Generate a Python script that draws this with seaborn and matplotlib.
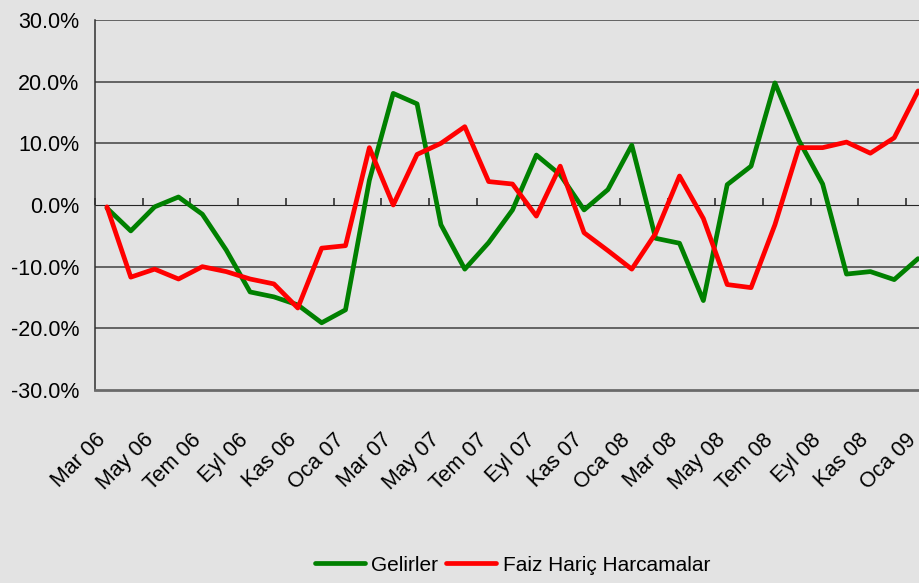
import matplotlib
matplotlib.use("Agg")
import matplotlib.pyplot as plt
import pandas as pd
import seaborn as sns
from matplotlib.ticker import FuncFormatter
from matplotlib.transforms import ScaledTranslation

# Data (monthly % change)
months = ["Mar 06", "Nis 06", "May 06", "Haz 06", "Tem 06", "Ağu 06", "Eyl 06", "Eki 06",
          "Kas 06", "Ara 06", "Oca 07", "Şub 07", "Mar 07", "Nis 07", "May 07", "Haz 07",
          "Tem 07", "Ağu 07", "Eyl 07", "Eki 07", "Kas 07", "Ara 07", "Oca 08", "Şub 08",
          "Mar 08", "Nis 08", "May 08", "Haz 08", "Tem 08", "Ağu 08", "Eyl 08", "Eki 08",
          "Kas 08", "Ara 08", "Oca 09"]
gelirler = [-0.5, -4.2, -0.3, 1.3, -1.5, -7.3, -14.1, -14.9, -16.2, -19.1, -17.0, 4.0,
            18.1, 16.4, -3.2, -10.4, -6.1, -0.8, 8.1, 4.9, -0.8, 2.5, 9.7, -5.4,
            -6.2, -15.5, 3.3, 6.3, 19.8, 10.5, 3.4, -11.2, -10.8, -12.1, -8.7]
harcamalar = [-0.3, -11.7, -10.4, -12.0, -10.0, -10.8, -12.0, -12.8, -16.7, -7.0, -6.6, 9.3,
              0.0, 8.2, 10.0, 12.7, 3.8, 3.4, -1.8, 6.3, -4.5, -7.4, -10.4, -4.6,
              4.7, -2.2, -12.9, -13.4, -3.2, 9.3, 9.3, 10.2, 8.4, 10.9, 18.5]
series_names = ["Gelirler", "Faiz Hariç Harcamalar"]
colors = ["#008000", "#FF0000"]

df = pd.DataFrame({"idx": range(len(months)), series_names[0]: gelirler,
                   series_names[1]: harcamalar})
df_long = df.melt(id_vars="idx", var_name="seri", value_name="deger")

bg = "#E3E3E3"
sns.set_style("white")
plt.rcParams["font.family"] = ["Liberation Sans", "DejaVu Sans"]
plt.rcParams["text.color"] = "black"

fig = plt.figure(figsize=(9.2, 5.83), dpi=100, facecolor=bg)
# plot area runs past the right edge of the picture, like the original
ax = fig.add_axes([95 / 920, 193 / 583, 835 / 920, 370 / 583])
ax.set_facecolor(bg)

sns.lineplot(data=df_long, x="idx", y="deger", hue="seri", palette=colors,
             linewidth=3.4, ax=ax)

ax.set_xlim(-0.5, 34.5)
ax.set_ylim(-30, 30)
ax.set_yticks(range(-30, 31, 10))
ax.yaxis.set_major_formatter(FuncFormatter(lambda v, p: f"{v:.1f}%"))
for v in [-20, -10, 10, 20, 30]:
    ax.axhline(v, color="#404040", linewidth=1.1, zorder=0)

for s in ["top", "right"]:
    ax.spines[s].set_visible(False)
ax.spines["left"].set_color("#303030")
ax.spines["left"].set_linewidth(1.1)
ax.spines["bottom"].set_color("#6A6A6A")
ax.spines["bottom"].set_linewidth(2)

ax.tick_params(axis="y", length=4.5, width=1, color="#303030", pad=7,
               labelsize=15.5, labelcolor="black")
ax.set_xticks(range(0, len(months), 2))
ax.set_xticklabels(months[::2], rotation=45, ha="right", rotation_mode="anchor",
                   fontsize=15.5)
ax.tick_params(axis="x", length=0, pad=30, labelcolor="black")
# nudge the slanted month labels a little to the left
shift = ScaledTranslation(-12 / 100, 2 / 100, fig.dpi_scale_trans)
for lbl in ax.get_xticklabels():
    lbl.set_transform(lbl.get_transform() + shift)

# zero line as category axis with tick marks
sec = ax.secondary_xaxis(0.5)
sec.spines["bottom"].set_color("#707070")
sec.spines["bottom"].set_linewidth(2)
sec.set_xticks([x - 0.5 for x in range(0, len(months) + 1, 2)])
sec.set_xticklabels([])
sec.tick_params(axis="x", direction="out", length=5, width=1.2, color="#303030")

ax.set_xlabel("")
ax.set_ylabel("")
leg = ax.legend(loc="center", bbox_to_anchor=(0.5, -0.473), ncol=2, frameon=False,
                fontsize=15, handlelength=2.4, handletextpad=0.3, columnspacing=0.4)
for t in leg.get_texts():
    t.set_color("black")

fig.savefig("out.png", dpi=100, facecolor=bg)
